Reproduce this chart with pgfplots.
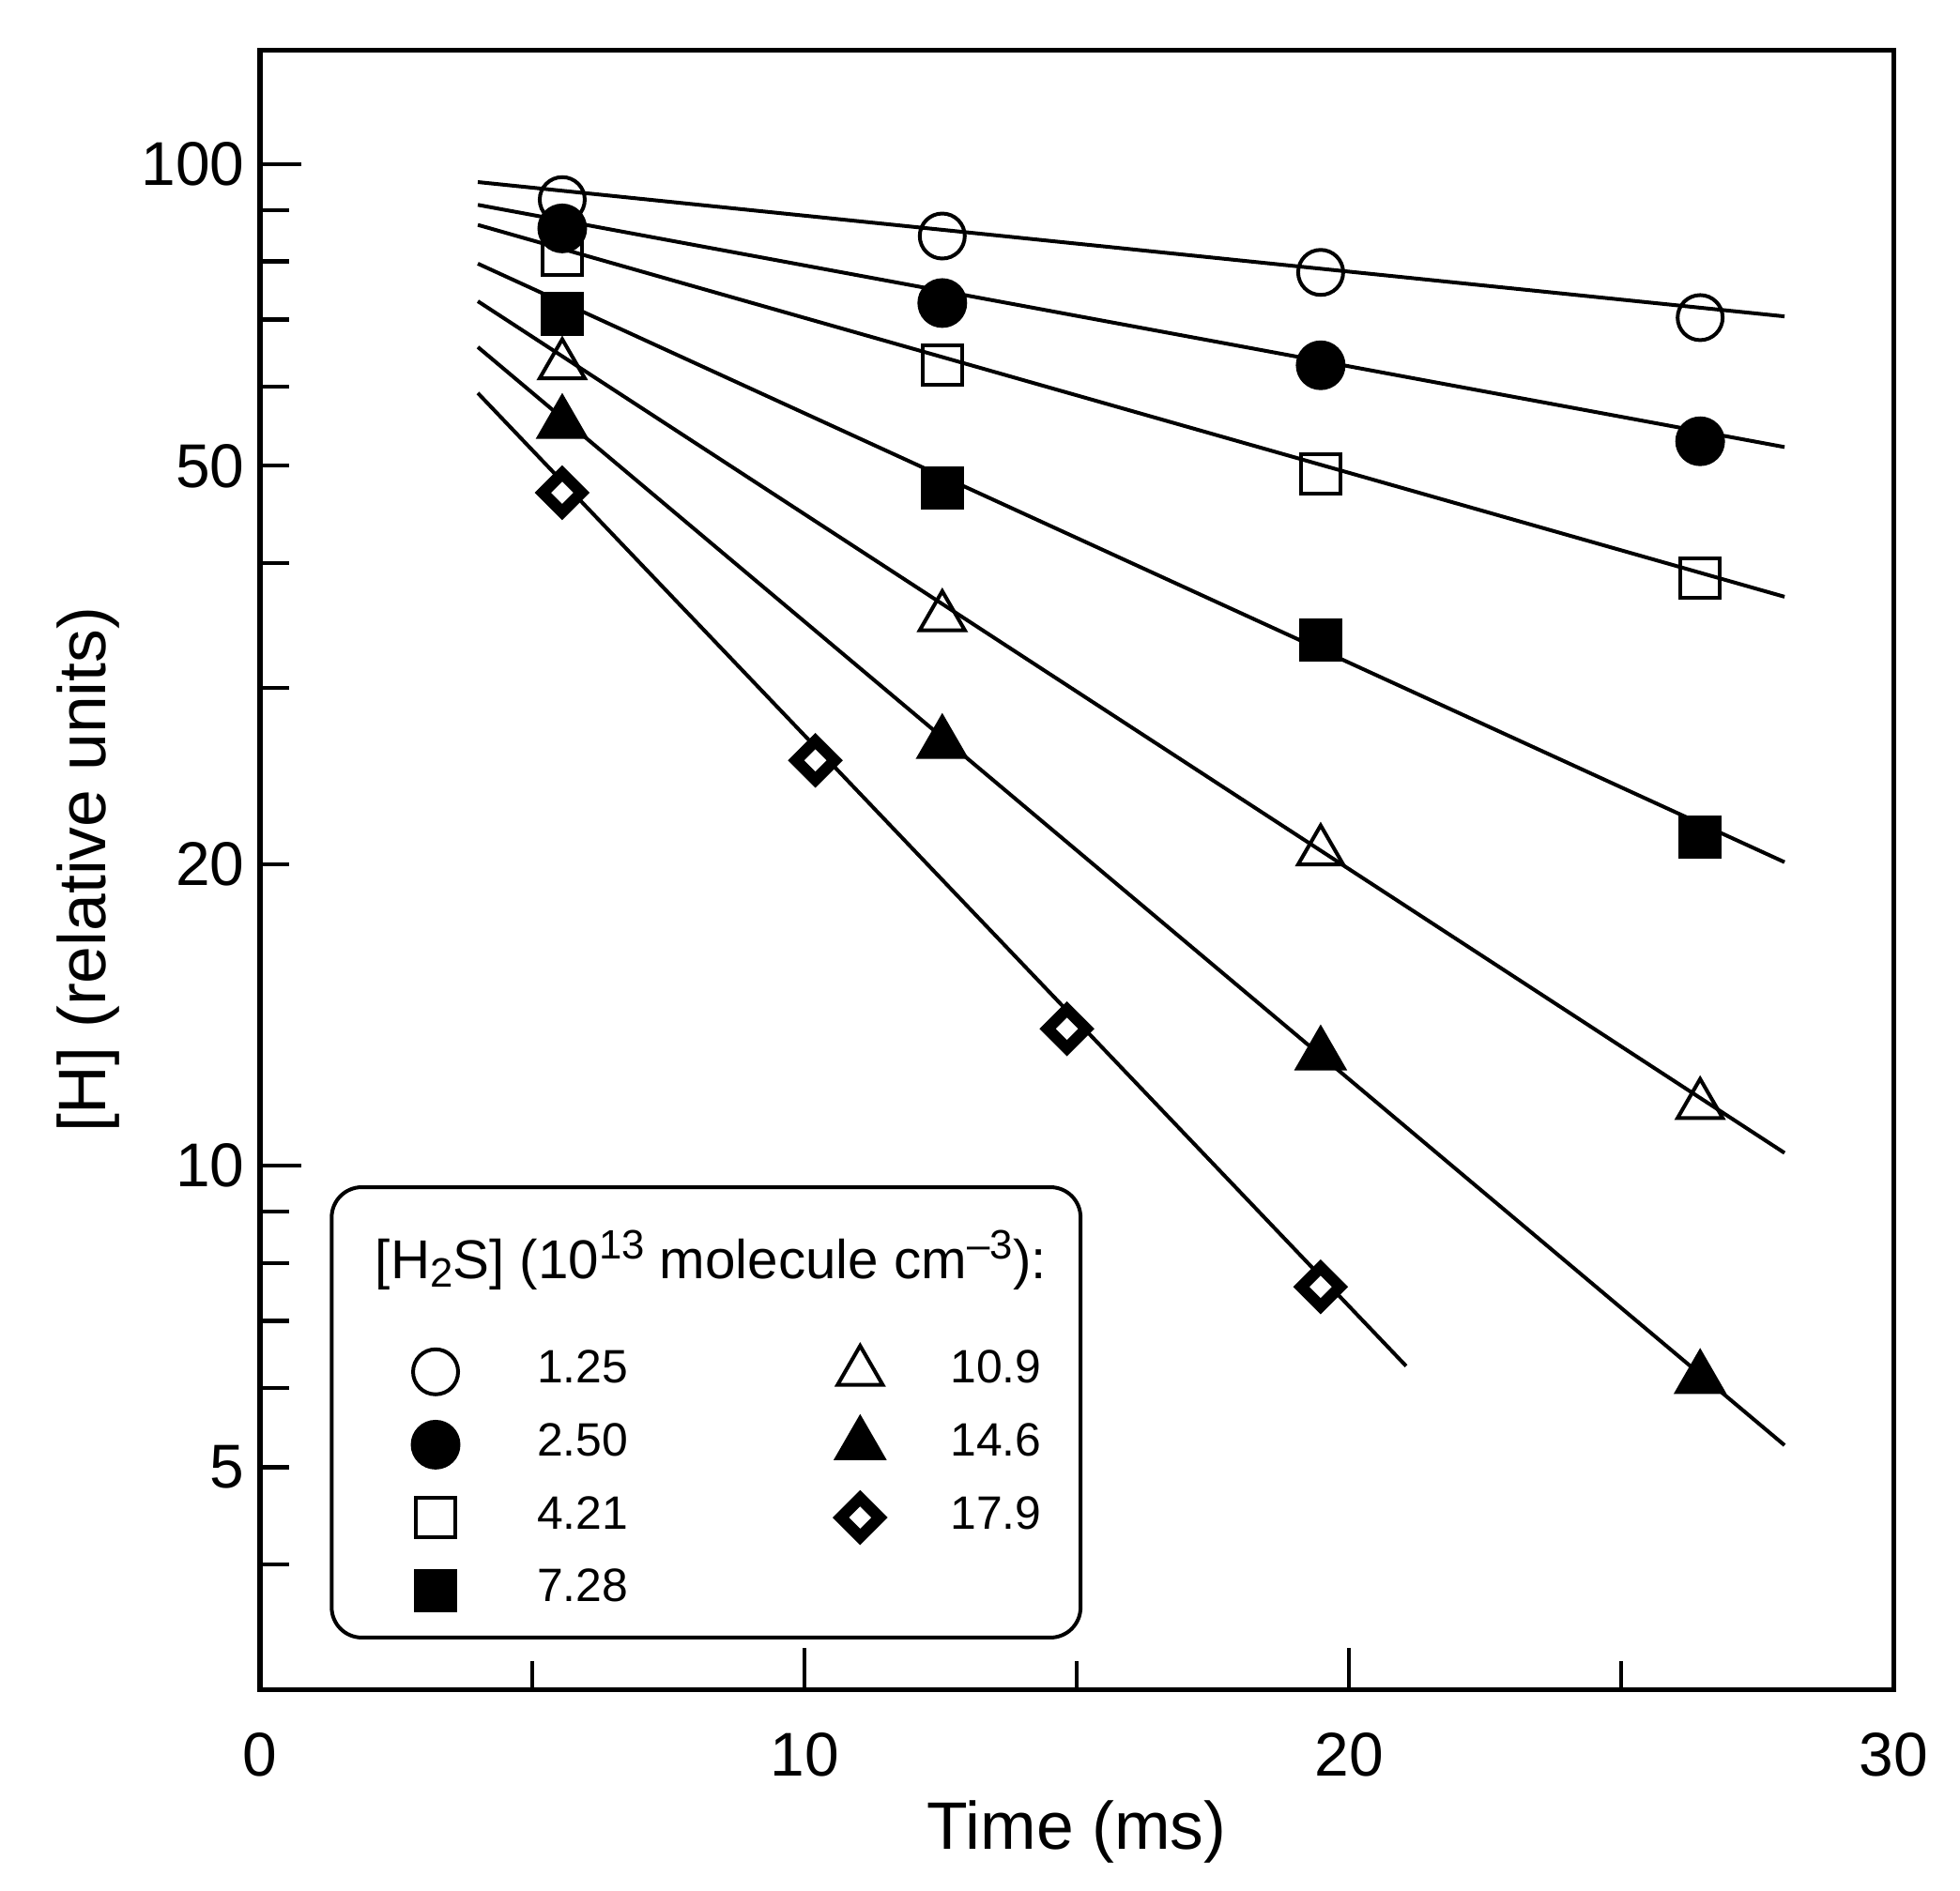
\documentclass[border=0pt]{standalone}
\usepackage{fontspec}
\setmainfont{Liberation Sans}
\usepackage{pgfplots}
\pgfplotsset{compat=1.18}

\newcommand\tsub[1]{\raisebox{-0.14em}{\fontsize{9.3}{10}\selectfont #1}}
\newcommand\tsup[1]{\raisebox{0.36em}{\fontsize{9.3}{10}\selectfont #1}}

\pgfplotsset{
  fitline/.style={black, line width=0.85pt, no marks, forget plot},
  oc/.style={only marks, mark=o, mark size=5.1pt, mark options={draw=black, line width=0.85pt}},
  fc/.style={only marks, mark=*, mark size=5.2pt, mark options={draw=black, fill=black, line width=0.85pt}},
  os/.style={only marks, mark=square, mark size=4.45pt, mark options={draw=black, line width=0.85pt}},
  fs/.style={only marks, mark=square*, mark size=4.5pt, mark options={draw=black, fill=black, line width=0.85pt}},
  ot/.style={only marks, mark=triangle, mark size=5.9pt, mark options={draw=black, line width=0.85pt}},
  ft/.style={only marks, mark=triangle*, mark size=6.1pt, mark options={draw=black, fill=black, line width=0.85pt}},
  dm/.style={only marks, mark=square*, mark size=3.1pt, mark options={draw=black, fill=white, line width=2.6pt, rotate=45}},
  lgimg/.style={legend image code/.code={%
      \path (0cm,0cm) (0.6cm,0cm);
      \draw[##1] plot[only marks] coordinates {(0.3cm,0cm)};}},
}

\begin{document}
\begin{tikzpicture}
\begin{axis}[
  name=ax,
  scale only axis, width=13.0cm, height=13.05cm,
  ymode=log,
  xmin=0, xmax=30, ymin=3, ymax=130,
  clip=false,
  axis line style={line width=1.1pt},
  tick align=inside, tick pos=left,
  xtick={0,10,20,30}, xticklabels={0,10,20,30},
  minor xtick={5,15,25},
  ytick={10,100}, yticklabels={10,100},
  minor ytick={4,5,6,7,8,9,20,30,40,50,60,70,80,90},
  extra y ticks={5,20,50}, extra y tick labels={5,20,50},
  extra y tick style={major tick length=0.23cm},
  major tick length=0.33cm, minor tick length=0.23cm,
  tick style={black, line width=0.9pt},
  tick label style={font=\fontsize{14}{16}\selectfont},
  xticklabel style={yshift=-0.22cm},
  /pgf/number format/assume math mode=true,
  xlabel={Time (ms)},
  ylabel={[H] (relative units)},
  label style={font=\fontsize{15.2}{18}\selectfont},
  xlabel style={at={(axis description cs:0.5,-0.0973)}, anchor=base},
  ylabel style={at={(axis description cs:-0.0946,0.5)}, anchor=base},
  legend columns=2,
  legend cell align=left,
  legend style={at={(axis cs:2.515,6.85)}, anchor=north west,
    draw=none, fill=none, inner sep=0pt, outer sep=0pt, row sep=0pt,
    font=\fontsize{10.6}{12}\selectfont,
    nodes={inner sep=0pt, text depth=0pt, minimum height=0.58cm, yshift=0.04cm},
    /tikz/column 1/.style={column sep=0.50cm},
    /tikz/column 2/.style={column sep=1.54cm},
    /tikz/column 3/.style={column sep=0.41cm}},
]

% fitted decays
\addplot[fitline] coordinates {(4.0,96.0) (28.0,70.5)};
\addplot[fitline] coordinates {(4.0,91.1) (28.0,52.2)};
\addplot[fitline] coordinates {(4.0,87.0) (28.0,37.0)};
\addplot[fitline] coordinates {(4.0,79.6) (28.0,20.1)};
\addplot[fitline] coordinates {(4.0,73.0) (28.0,10.3)};
\addplot[fitline] coordinates {(4.0,65.7) (28.0,5.26)};
\addplot[fitline] coordinates {(4.0,59.1) (21.05,6.31)};

% measured points
\addplot[oc, forget plot] coordinates {(5.55,92.2) (12.53,84.8) (19.48,78.0) (26.45,70.3)};
\addplot[os, forget plot] coordinates {(5.55,81.2) (12.53,63.0) (19.48,49.1) (26.45,38.6)};
\addplot[fc, forget plot] coordinates {(5.55,86.3) (12.53,72.7) (19.48,63.0) (26.45,52.9)};
\addplot[fs, forget plot] coordinates {(5.55,70.9) (12.53,47.5) (19.48,33.5) (26.45,21.3)};
\addplot[ot, forget plot] coordinates {(5.55,63.0) (12.53,35.3) (19.48,20.6) (26.45,11.5)};
\addplot[ft, forget plot] coordinates {(5.55,55.1) (12.53,26.4) (19.48,12.9) (26.45,6.13)};
\addplot[dm, forget plot] coordinates {(5.55,47.0) (10.2,25.4) (14.82,13.7) (19.48,7.57)};

% legend entries, row by row
\addlegendimage{oc, lgimg} \addlegendentry{1.25}
\addlegendimage{ot, lgimg} \addlegendentry{10.9}
\addlegendimage{fc, lgimg} \addlegendentry{2.50}
\addlegendimage{ft, lgimg} \addlegendentry{14.6}
\addlegendimage{os, lgimg} \addlegendentry{4.21}
\addlegendimage{dm, lgimg} \addlegendentry{17.9}
\addlegendimage{fs, lgimg} \addlegendentry{7.28}

\draw[line width=0.85pt, rounded corners=0.24cm] (axis cs:1.315,9.52) rectangle (axis cs:15.07,3.38);
\node[anchor=base west, inner sep=0pt, font=\fontsize{12.4}{15}\selectfont]
  at (axis cs:2.10,7.71) {[H\tsub{2}S] (10\tsup{13} molecule cm\tsup{–3}):};
\end{axis}
\path ([shift={(-2.07cm,-1.60cm)}]ax.south west) rectangle ([shift={(0.53cm,0.40cm)}]ax.north east);
\end{tikzpicture}
\end{document}
